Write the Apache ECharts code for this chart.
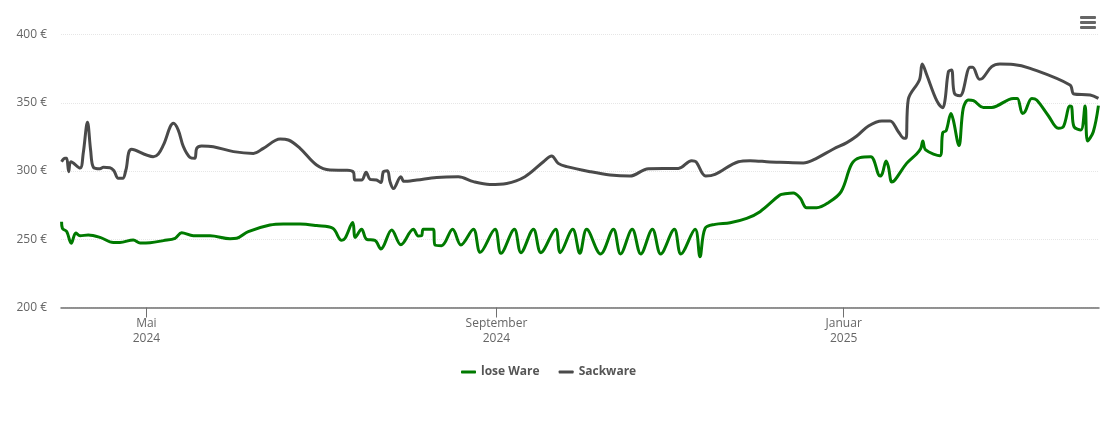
<!DOCTYPE html>
<html>
<head>
<meta charset="utf-8">
<style>
	html, body { margin: 0; padding: 0; background: #fff; }
	#chart { width: 1110px; height: 422px; }
</style>
<script src="https://cdn.jsdelivr.net/npm/echarts@6/dist/echarts.min.js"></script>
</head>
<body>
<div id="chart"></div>
<script>
var startDate = Date.UTC(2024, 3, 1);
var oneDay = 24 * 3600 * 1000;
var axisEndDay = 364.7;

var tickDates = [Date.UTC(2024, 4, 1), Date.UTC(2024, 8, 1), Date.UTC(2025, 0, 1)];
var tickLabels = ['Mai\n2024', 'September\n2024', 'Januar\n2025'];
var yTicks = [200, 250, 300, 350, 400];

// days since startDate
var looseDays = [
	0.2, 0.5, 2.0, 3.6, 5.2, 6.7, 9.6, 13.7, 18.4, 20.7, 25.4, 27.8, 31.3, 36.0, 40.1, 42.4, 46.5, 52.4, 59.4, 61.7,
	65.8, 73.4, 78.1, 84.0, 89.8, 95.5, 98.6, 99.8, 102.5, 103.4, 105.6, 107.4, 110.3, 112.4, 116.2, 119.4,
	123.8, 125.5, 126.7, 127.3, 130.8, 131.4, 133.7, 137.6, 140.5, 144.9, 147.3, 152.5, 154.6, 159.3, 161.6, 166.0,
	168.6, 173.8, 175.4, 179.8, 182.3, 184.7, 189.6, 194.1, 196.6, 200.7, 203.7, 207.8, 210.7, 215.5, 217.8, 222.8,
	224.5, 226.3, 229.8, 235.1, 240.9, 245.6, 252.6, 254.4, 257.3, 259.7, 262.0, 265.5, 269.6, 274.1, 277.8, 280.7, 284.5, 287.8,
	288.6, 289.9, 290.7, 291.9, 293.0, 297.1, 300.6, 302.1, 302.8, 303.8, 308.8, 309.8, 311.0, 312.7, 313.5, 315.5,
	317.0, 318.8, 320.6, 324.1, 327.0, 334.6, 336.0, 337.8, 338.7, 341.1, 342.8, 346.9, 350.4, 352.2, 354.5, 355.1,
	355.9, 358.3, 359.8, 360.7, 362.7, 364.5
];
var looseValues = [
	262.9, 258.0, 255.6, 247.0, 254.6, 252.6, 253.1, 251.4, 247.7, 247.7, 249.5, 247.3, 247.5, 249.0, 250.7, 254.8, 252.6, 252.6, 250.4, 250.7,
	255.6, 260.4, 261.2, 261.2, 260.0, 258.0, 249.2, 250.7, 262.2, 251.4, 257.3, 249.9, 249.2, 242.9, 256.8, 246.0,
	257.3, 252.4, 252.6, 257.3, 257.3, 245.8, 245.3, 257.3, 245.8, 257.3, 240.4, 257.3, 239.7, 257.3, 240.2, 257.3,
	240.2, 257.3, 240.2, 257.3, 239.7, 257.3, 239.2, 257.3, 239.2, 257.3, 239.2, 257.3, 239.2, 257.3, 239.2, 257.3,
	237.2, 258.0, 260.9, 262.1, 265.3, 270.2, 282.4, 283.3, 283.9, 280.2, 273.1, 273.1, 276.8, 284.9, 305.1, 309.8, 310.5, 296.3,
	298.3, 307.3, 303.2, 291.9, 293.4, 305.6, 312.5, 316.6, 322.0, 315.4, 311.2, 328.1, 329.5, 342.2, 337.4, 318.6,
	345.9, 352.0, 351.5, 346.6, 346.6, 353.2, 353.2, 342.2, 343.4, 353.2, 352.0, 340.5, 331.3, 332.5, 347.6, 347.1,
	332.5, 330.0, 347.6, 322.0, 328.8, 347.9
];

var sackDays = [
	0.2, 1.4, 2.0, 2.7, 3.5, 6.7, 7.8, 9.3, 10.4, 11.4, 13.7, 14.9, 17.2, 18.6, 20.1, 21.7, 22.8, 24.8, 32.4, 34.2,
	36.0, 39.5, 41.2, 43.0, 45.3, 47.0, 47.7, 49.4, 53.5, 60.6, 67.6, 71.1, 77.0, 79.9, 84.0, 89.8, 94.5, 100.4,
	102.7, 103.3, 105.6, 107.2, 108.6, 110.9, 112.4, 113.3, 114.7, 115.6, 116.8, 119.4, 120.5,
	125.0, 132.0, 139.6, 144.9, 150.7, 156.6, 163.0, 169.5, 172.4, 174.7, 177.7, 185.9, 192.9, 199.9, 206.4, 216.9,
	221.6, 223.1, 226.5, 229.8, 238.0, 242.1, 249.1,
	252.6, 260.8, 264.3, 271.4, 276.1, 279.6, 283.7, 288.4, 291.3, 294.2, 296.2, 296.9, 297.7, 301.6, 302.6, 304.2,
	307.7, 309.8, 310.6, 311.8, 312.9, 313.9, 315.9, 319.4, 320.3, 322.7, 323.8, 327.0, 329.9, 334.6, 340.5, 354.5,
	355.9, 361.6, 364.5
];
var sackValues = [
	306.8, 309.3, 309.3, 299.5, 306.8, 302.2, 312.9, 335.7, 315.4, 302.7, 301.7, 302.7, 302.4, 300.2, 294.6, 294.6, 300.7, 315.9, 310.5, 312.5,
	319.1, 334.9, 330.0, 317.8, 310.0, 309.3, 316.6, 318.3, 317.8, 314.2, 312.9, 316.6, 323.4, 322.7, 316.6, 304.4, 300.7, 300.5,
	299.3, 293.4, 293.4, 299.0, 293.9, 293.4, 291.5, 299.5, 300.2, 292.2, 287.1, 295.8, 292.4,
	293.4, 295.3, 295.8, 292.2, 290.2, 290.9, 295.8, 306.8, 311.0, 305.6, 303.2, 299.5, 297.1, 296.3, 301.7, 301.9,
	307.6, 306.8, 296.3, 297.5, 306.8, 307.6, 306.6,
	306.4, 305.9, 308.1, 316.1, 320.8, 325.6, 333.0, 336.6, 336.6, 328.8, 324.0, 324.0, 352.5, 366.7, 378.4, 370.3,
	351.5, 346.4, 352.0, 372.8, 374.0, 356.9, 355.2, 376.0, 376.0, 367.2, 367.9, 376.4, 378.4, 378.1, 375.2, 363.0,
	356.4, 355.7, 353.2
];

function toPoints(days, values) {
	var points = [];
	for (var i = 0; i < days.length; i++) {
		points.push([startDate + days[i] * oneDay, values[i]]);
	}
	return points;
}

function lineSeries(name, color, days, values) {
	return {
		name: name,
		type: 'line',
		smooth: 0.35,
		showSymbol: false,
		symbol: 'none',
		lineStyle: { width: 3, color: color },
		itemStyle: { color: color },
		data: toPoints(days, values)
	};
}

var fontFamily = '"Open Sans", sans-serif';
var chart = echarts.init(document.getElementById('chart'), null, { renderer: 'canvas' });

chart.setOption({
	animation: false,
	backgroundColor: '#fff',
	grid: { left: 61, right: 11, top: 34.5, height: 273 },
	xAxis: {
		// value axis on timestamps: customValues breaks on a time axis here
		type: 'value',
		min: startDate,
		max: startDate + axisEndDay * oneDay,
		axisLine: { lineStyle: { color: '#707070', width: 1.5 } },
		axisTick: { length: 10, customValues: tickDates, lineStyle: { color: '#707070' } },
		splitLine: { show: false },
		axisLabel: {
			customValues: tickDates,
			hideOverlap: false,
			color: '#666',
			fontFamily: fontFamily,
			fontSize: 12,
			lineHeight: 15,
			margin: 9,
			formatter: function (value) {
				return tickLabels[tickDates.indexOf(value)];
			}
		}
	},
	yAxis: {
		type: 'value',
		min: yTicks[0],
		max: yTicks[yTicks.length - 1],
		interval: 50,
		axisLine: { show: false },
		axisTick: { show: false },
		axisLabel: {
			color: '#666',
			fontFamily: fontFamily,
			fontSize: 12,
			margin: 14,
			formatter: '{value} €'
		},
		splitLine: { lineStyle: { color: '#e6e6e6', type: 'dotted', width: 1 } }
	},
	legend: {
		left: 456,
		top: 361,
		icon: 'roundRect',
		itemWidth: 15,
		itemHeight: 3,
		itemGap: 19,
		selectedMode: false,
		textStyle: { color: '#555', fontFamily: fontFamily, fontSize: 12, fontWeight: 'bold' },
		data: ['lose Ware', 'Sackware']
	},
	series: [
		lineSeries('lose Ware', '#007a00', looseDays, looseValues),
		lineSeries('Sackware', '#4a4a4a', sackDays, sackValues)
	],
	graphic: [
		{ type: 'rect', shape: { x: 1080, y: 16, width: 16, height: 3, r: 1 }, style: { fill: '#666' } },
		{ type: 'rect', shape: { x: 1080, y: 21, width: 16, height: 3, r: 1 }, style: { fill: '#666' } },
		{ type: 'rect', shape: { x: 1080, y: 26, width: 16, height: 3, r: 1 }, style: { fill: '#666' } }
	]
});
</script>
</body>
</html>
